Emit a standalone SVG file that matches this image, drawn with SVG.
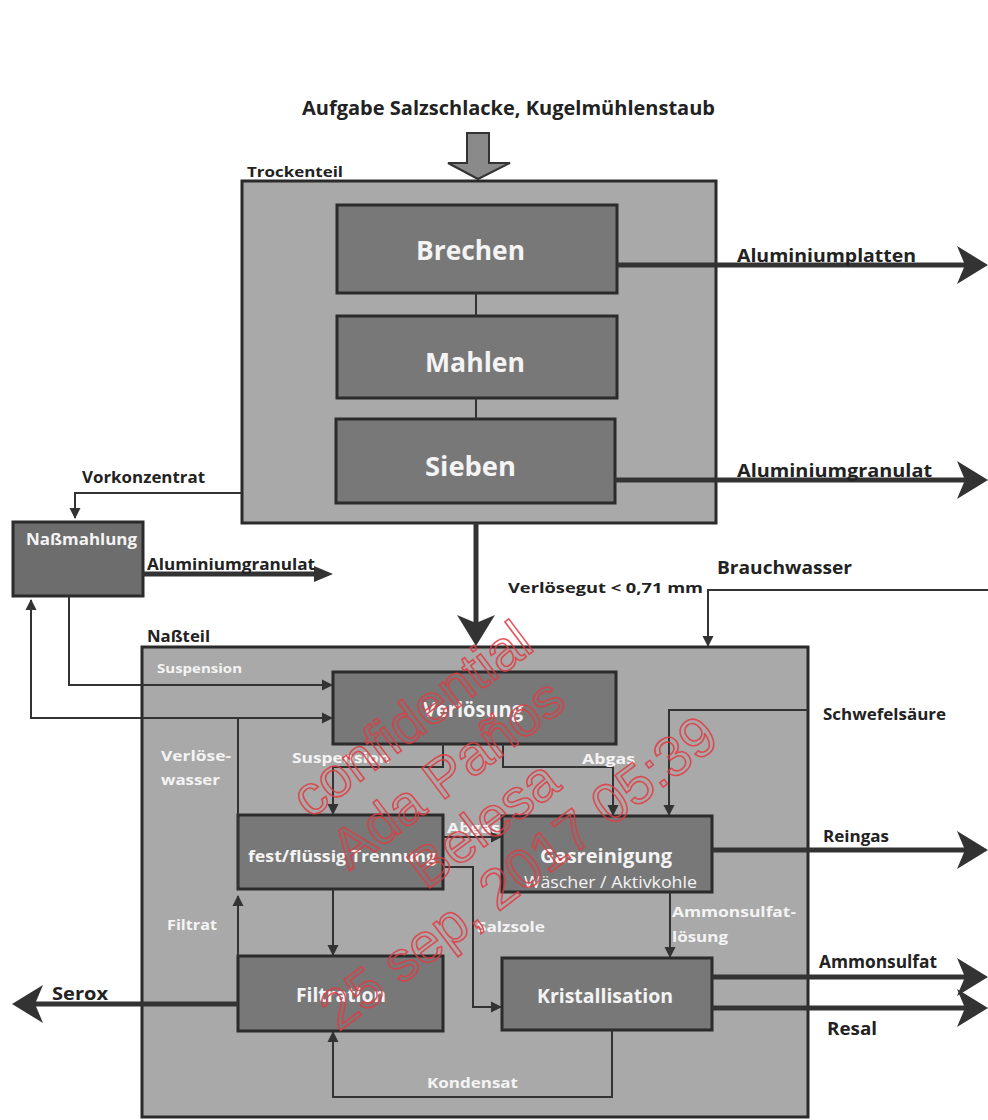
<svg xmlns="http://www.w3.org/2000/svg" width="988" height="1120" viewBox="0 0 988 1120">
<style>
  text { font-family: "Open Sans", "Liberation Sans", sans-serif; font-weight: bold; }
  .dk { fill: #222; }
  .wh { fill: #f4f4f4; }
  .norm { font-weight: normal; }
  .frame { fill: #a9a9a9; stroke: #2a2a2a; stroke-width: 3; }
  .box { fill: #787878; stroke: #2b2b2b; stroke-width: 3; }
  .thin { fill: none; stroke: #333; stroke-width: 2; }
  .thick { fill: none; stroke: #333; stroke-width: 5; }
  .wm { font-family: "Liberation Sans", sans-serif; font-weight: normal; font-size: 56px; fill: none; stroke: #e43a42; stroke-width: 1.6; opacity: 0.85; }
</style>
<defs>
  <marker id="big" markerUnits="userSpaceOnUse" markerWidth="32" markerHeight="38" viewBox="0 0 32 38" refX="8" refY="19" orient="auto">
    <path d="M0,0 L31,19 L0,38 L8,19 Z" fill="#333"/>
  </marker>
  <marker id="mid" markerUnits="userSpaceOnUse" markerWidth="20" markerHeight="18" viewBox="0 0 20 18" refX="10" refY="9" orient="auto">
    <path d="M0,1 L19,9 L0,17 Z" fill="#333"/>
  </marker>
  <marker id="sm" markerUnits="userSpaceOnUse" markerWidth="12" markerHeight="12" viewBox="0 0 12 12" refX="10" refY="6" orient="auto">
    <path d="M0,0.5 L11,6 L0,11.5 Z" fill="#333"/>
  </marker>
</defs>
<rect width="988" height="1120" fill="#ffffff"/>

<text class="dk" x="302" y="115" font-size="19" textLength="413" lengthAdjust="spacingAndGlyphs">Aufgabe Salzschlacke, Kugelmühlenstaub</text>

<g id="trockenteil">
  <rect class="frame" x="242" y="181" width="474" height="342"/>
  <text class="dk" x="247" y="177" font-size="15" textLength="96" lengthAdjust="spacingAndGlyphs">Trockenteil</text>
</g>
<g id="brechen">
  <rect class="box" x="337" y="205" width="280" height="88"/>
  <text class="wh" x="416" y="260" font-size="26" textLength="109" lengthAdjust="spacingAndGlyphs">Brechen</text>
</g>
<g id="mahlen">
  <rect class="box" x="337" y="316" width="280" height="82"/>
  <text class="wh" x="425" y="372" font-size="26" textLength="100" lengthAdjust="spacingAndGlyphs">Mahlen</text>
</g>
<g id="sieben">
  <rect class="box" x="336" y="419" width="279" height="84"/>
  <text class="wh" x="425" y="476" font-size="26" textLength="91" lengthAdjust="spacingAndGlyphs">Sieben</text>
</g>
<g id="nassmahlung">
  <rect x="13" y="522" width="130" height="74" fill="#6d6d6d" stroke="#2b2b2b" stroke-width="3"/>
  <text class="wh" x="26" y="545" font-size="16" textLength="111" lengthAdjust="spacingAndGlyphs">Naßmahlung</text>
</g>
<g id="nassteil">
  <rect class="frame" x="142" y="647" width="666" height="470"/>
  <text class="dk" x="147" y="642" font-size="16" textLength="63" lengthAdjust="spacingAndGlyphs">Naßteil</text>
</g>
<g id="verloesung">
  <rect class="box" x="333" y="672" width="283" height="72"/>
  <text class="wh" x="423" y="717" font-size="22" textLength="100" lengthAdjust="spacingAndGlyphs">Verlösung</text>
</g>
<g id="trennung">
  <rect class="box" x="238" y="815" width="205" height="74"/>
  <text class="wh" x="248" y="862" font-size="16" textLength="188" lengthAdjust="spacingAndGlyphs">fest/flüssig Trennung</text>
</g>
<g id="gasreinigung">
  <rect class="box" x="502" y="816" width="210" height="76"/>
  <text class="wh" x="540" y="863" font-size="20" textLength="132" lengthAdjust="spacingAndGlyphs">Gasreinigung</text>
  <text class="wh norm" x="524" y="888" font-size="16" textLength="173" lengthAdjust="spacingAndGlyphs">Wäscher / Aktivkohle</text>
</g>
<g id="filtration">
  <rect class="box" x="238" y="956" width="205" height="75"/>
  <text class="wh" x="296" y="1002" font-size="20" textLength="90" lengthAdjust="spacingAndGlyphs">Filtration</text>
</g>
<g id="kristallisation">
  <rect class="box" x="502" y="958" width="210" height="72"/>
  <text class="wh" x="537" y="1003" font-size="20" textLength="136" lengthAdjust="spacingAndGlyphs">Kristallisation</text>
</g>

<g id="connectors">
  <polygon points="467,133 489,133 489,163 510,163 478,179 448,163 467,163" fill="#8a8a8a" stroke="#333" stroke-width="2"/>
  <path class="thin" d="M476,293 V316 M476,398 V419" stroke-width="2.5"/>
  <path class="thick" d="M617,265 H965" marker-end="url(#big)"/>
  <path class="thick" d="M615,480 H965" marker-end="url(#big)"/>
  <path class="thin" d="M242,493 H75 V518" marker-end="url(#sm)"/>
  <path class="thick" d="M143,574 H324" stroke-width="3.5" marker-end="url(#mid)"/>
  <path class="thick" d="M476,523 V623" stroke-width="4" marker-end="url(#big)"/>
  <path class="thin" d="M988,590 H708 V646" marker-end="url(#sm)"/>
  <path class="thin" d="M69,596 V685 H332" marker-end="url(#sm)"/>
  <path class="thin" d="M238,956 V896" marker-end="url(#sm)"/>
  <path class="thin" d="M238,890 V718 H332" marker-end="url(#sm)"/>
  <path class="thin" d="M238,718 H31 V600" marker-end="url(#sm)"/>
  <path class="thin" d="M443,744 V767 H333 V814" marker-end="url(#sm)"/>
  <path class="thin" d="M503,744 V767 H613 V815" marker-end="url(#sm)"/>
  <path class="thin" d="M443,837 H501" marker-end="url(#sm)"/>
  <path class="thin" d="M443,867 H473 V1007 H501" marker-end="url(#sm)"/>
  <path class="thin" d="M808,710 H669 V815" marker-end="url(#sm)"/>
  <path class="thick" d="M712,850 H965" marker-end="url(#big)"/>
  <path class="thin" d="M333,889 V955" marker-end="url(#sm)"/>
  <path class="thin" d="M670,892 V957" marker-end="url(#sm)"/>
  <path class="thick" d="M712,977 H965" marker-end="url(#big)"/>
  <path class="thick" d="M712,1008 H965" marker-end="url(#big)"/>
  <path class="thin" d="M612,1031 V1097 H333 V1032" marker-end="url(#sm)"/>
  <path class="thick" d="M238,1004 H35" marker-end="url(#big)"/>
</g>

<g id="labels">
  <text class="dk" x="737" y="262" font-size="18" textLength="179" lengthAdjust="spacingAndGlyphs">Aluminiumplatten</text>
  <text class="dk" x="737" y="477" font-size="18" textLength="195" lengthAdjust="spacingAndGlyphs">Aluminiumgranulat</text>
  <text class="dk" x="82" y="483" font-size="16" textLength="123" lengthAdjust="spacingAndGlyphs">Vorkonzentrat</text>
  <text class="dk" x="147" y="570" font-size="16" textLength="168" lengthAdjust="spacingAndGlyphs">Aluminiumgranulat</text>
  <text class="dk" x="508" y="593" font-size="15" textLength="195" lengthAdjust="spacingAndGlyphs">Verlösegut &lt; 0,71 mm</text>
  <text class="dk" x="717" y="574" font-size="18" textLength="135" lengthAdjust="spacingAndGlyphs">Brauchwasser</text>
  <text class="wh" x="157" y="673" font-size="13" textLength="85" lengthAdjust="spacingAndGlyphs">Suspension</text>
  <text class="wh" x="292" y="763" font-size="15" textLength="98" lengthAdjust="spacingAndGlyphs">Suspension</text>
  <text class="wh" x="161" y="761" font-size="15" textLength="70" lengthAdjust="spacingAndGlyphs">Verlöse-</text>
  <text class="wh" x="161" y="785" font-size="15" textLength="59" lengthAdjust="spacingAndGlyphs">wasser</text>
  <text class="wh" x="582" y="764" font-size="15" textLength="53" lengthAdjust="spacingAndGlyphs">Abgas</text>
  <text class="wh" x="447" y="833" font-size="15" textLength="53" lengthAdjust="spacingAndGlyphs">Abgas</text>
  <text class="wh" x="477" y="932" font-size="15" textLength="68" lengthAdjust="spacingAndGlyphs">Salzsole</text>
  <text class="wh" x="167" y="930" font-size="15" textLength="50" lengthAdjust="spacingAndGlyphs">Filtrat</text>
  <text class="wh" x="672" y="917" font-size="15" textLength="124" lengthAdjust="spacingAndGlyphs">Ammonsulfat-</text>
  <text class="wh" x="672" y="942" font-size="15" textLength="56" lengthAdjust="spacingAndGlyphs">lösung</text>
  <text class="wh" x="427" y="1088" font-size="15" textLength="91" lengthAdjust="spacingAndGlyphs">Kondensat</text>
  <text class="dk" x="823" y="720" font-size="16" textLength="123" lengthAdjust="spacingAndGlyphs">Schwefelsäure</text>
  <text class="dk" x="823" y="842" font-size="16" textLength="66" lengthAdjust="spacingAndGlyphs">Reingas</text>
  <text class="dk" x="819" y="968" font-size="17" textLength="118" lengthAdjust="spacingAndGlyphs">Ammonsulfat</text>
  <text class="dk" x="827" y="1035" font-size="18" textLength="50" lengthAdjust="spacingAndGlyphs">Resal</text>
  <text class="dk" x="52" y="1000" font-size="18" textLength="56" lengthAdjust="spacingAndGlyphs">Serox</text>
</g>

<g id="watermark" transform="rotate(-37)">
  <text class="wm" x="-104" y="841" text-anchor="middle">confidential</text>
  <text class="wm" x="-108" y="906" text-anchor="middle">Ada Paños</text>
  <text class="wm" x="-110" y="968" text-anchor="middle">Belesa</text>
  <text class="wm" x="-111" y="1028" text-anchor="middle">25 sep, 2017 05:39</text>
</g>
</svg>
